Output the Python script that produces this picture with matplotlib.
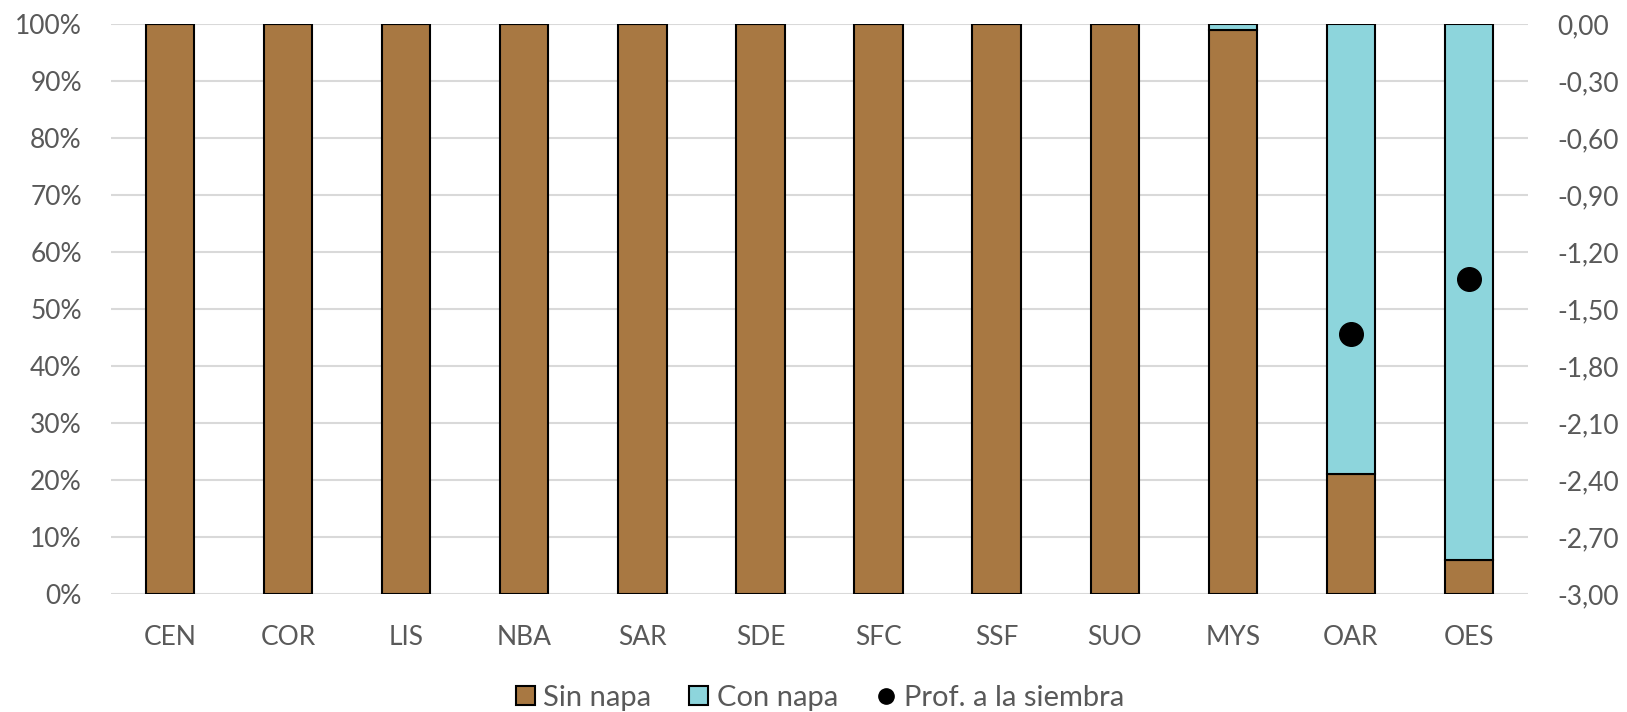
import matplotlib.pyplot as plt
import numpy as np
from matplotlib.ticker import FuncFormatter
from matplotlib.patches import Patch
from matplotlib.lines import Line2D

plt.rcParams['font.family'] = ['Lato', 'DejaVu Sans']

regiones = ['CEN', 'COR', 'LIS', 'NBA', 'SAR', 'SDE', 'SFC', 'SSF', 'SUO', 'MYS', 'OAR', 'OES']
sin_napa = [100, 100, 100, 100, 100, 100, 100, 100, 100, 99, 21, 6]
con_napa = [0, 0, 0, 0, 0, 0, 0, 0, 0, 1, 79, 94]
# profundidad de napa a la siembra (m), solo donde hay dato
prof_siembra = [np.nan] * 10 + [-1.63, -1.34]

MARRON = '#A87842'
CELESTE = '#8DD5DC'
GRIS = '#595959'

fig = plt.figure(figsize=(16.27, 7.12), dpi=100)
ax = fig.add_axes([0.0682, 0.1657, 0.8710, 0.8006])

x = np.arange(len(regiones))
ax.bar(x, sin_napa, width=0.41, color=MARRON, edgecolor='black', linewidth=1.5, zorder=3)
ax.bar(x, con_napa, width=0.41, bottom=sin_napa, color=CELESTE, edgecolor='black',
       linewidth=1.5, zorder=3)

ax.set_ylim(0, 100)
ax.set_xlim(-0.5, len(regiones) - 0.5)
ax.set_yticks(np.arange(0, 101, 10))
ax.yaxis.set_major_formatter(FuncFormatter(lambda v, p: f'{v:.0f}%'))
ax.set_xticks(x)
ax.set_xticklabels(regiones)
ax.grid(axis='y', color='#D9D9D9', linewidth=1.5, zorder=0)
ax.set_axisbelow(True)
for s in ax.spines.values():
    s.set_visible(False)
ax.tick_params(axis='both', length=0, labelsize=19, colors=GRIS)
ax.tick_params(axis='y', pad=21)
ax.tick_params(axis='x', pad=22)

ax2 = ax.twinx()
ax2.plot(x, prof_siembra, 'o', color='black', markersize=17, zorder=5)
ax2.set_ylim(-3, 0)
ax2.set_yticks(np.arange(-3, 0.01, 0.3))
ax2.yaxis.set_major_formatter(FuncFormatter(lambda v, p: f'{v:.2f}'.replace('.', ',').replace('-0,00', '0,00')))
for s in ax2.spines.values():
    s.set_visible(False)
ax2.tick_params(axis='y', length=0, labelsize=19, colors=GRIS, pad=21)

handles = [
    Patch(facecolor=MARRON, edgecolor='black', linewidth=1.5, label='Sin napa'),
    Patch(facecolor=CELESTE, edgecolor='black', linewidth=1.5, label='Con napa'),
    Line2D([], [], marker='o', color='black', linestyle='None', markersize=11,
           label='Prof. a la siembra'),
]
fig.legend(handles=handles, loc='center', bbox_to_anchor=(0.504, 0.02), ncol=3,
           frameon=False, fontsize=21, labelcolor=GRIS, handlelength=0.65, handleheight=0.65,
           handletextpad=0.3, columnspacing=1.3)

fig.savefig('out.png', dpi=100)
